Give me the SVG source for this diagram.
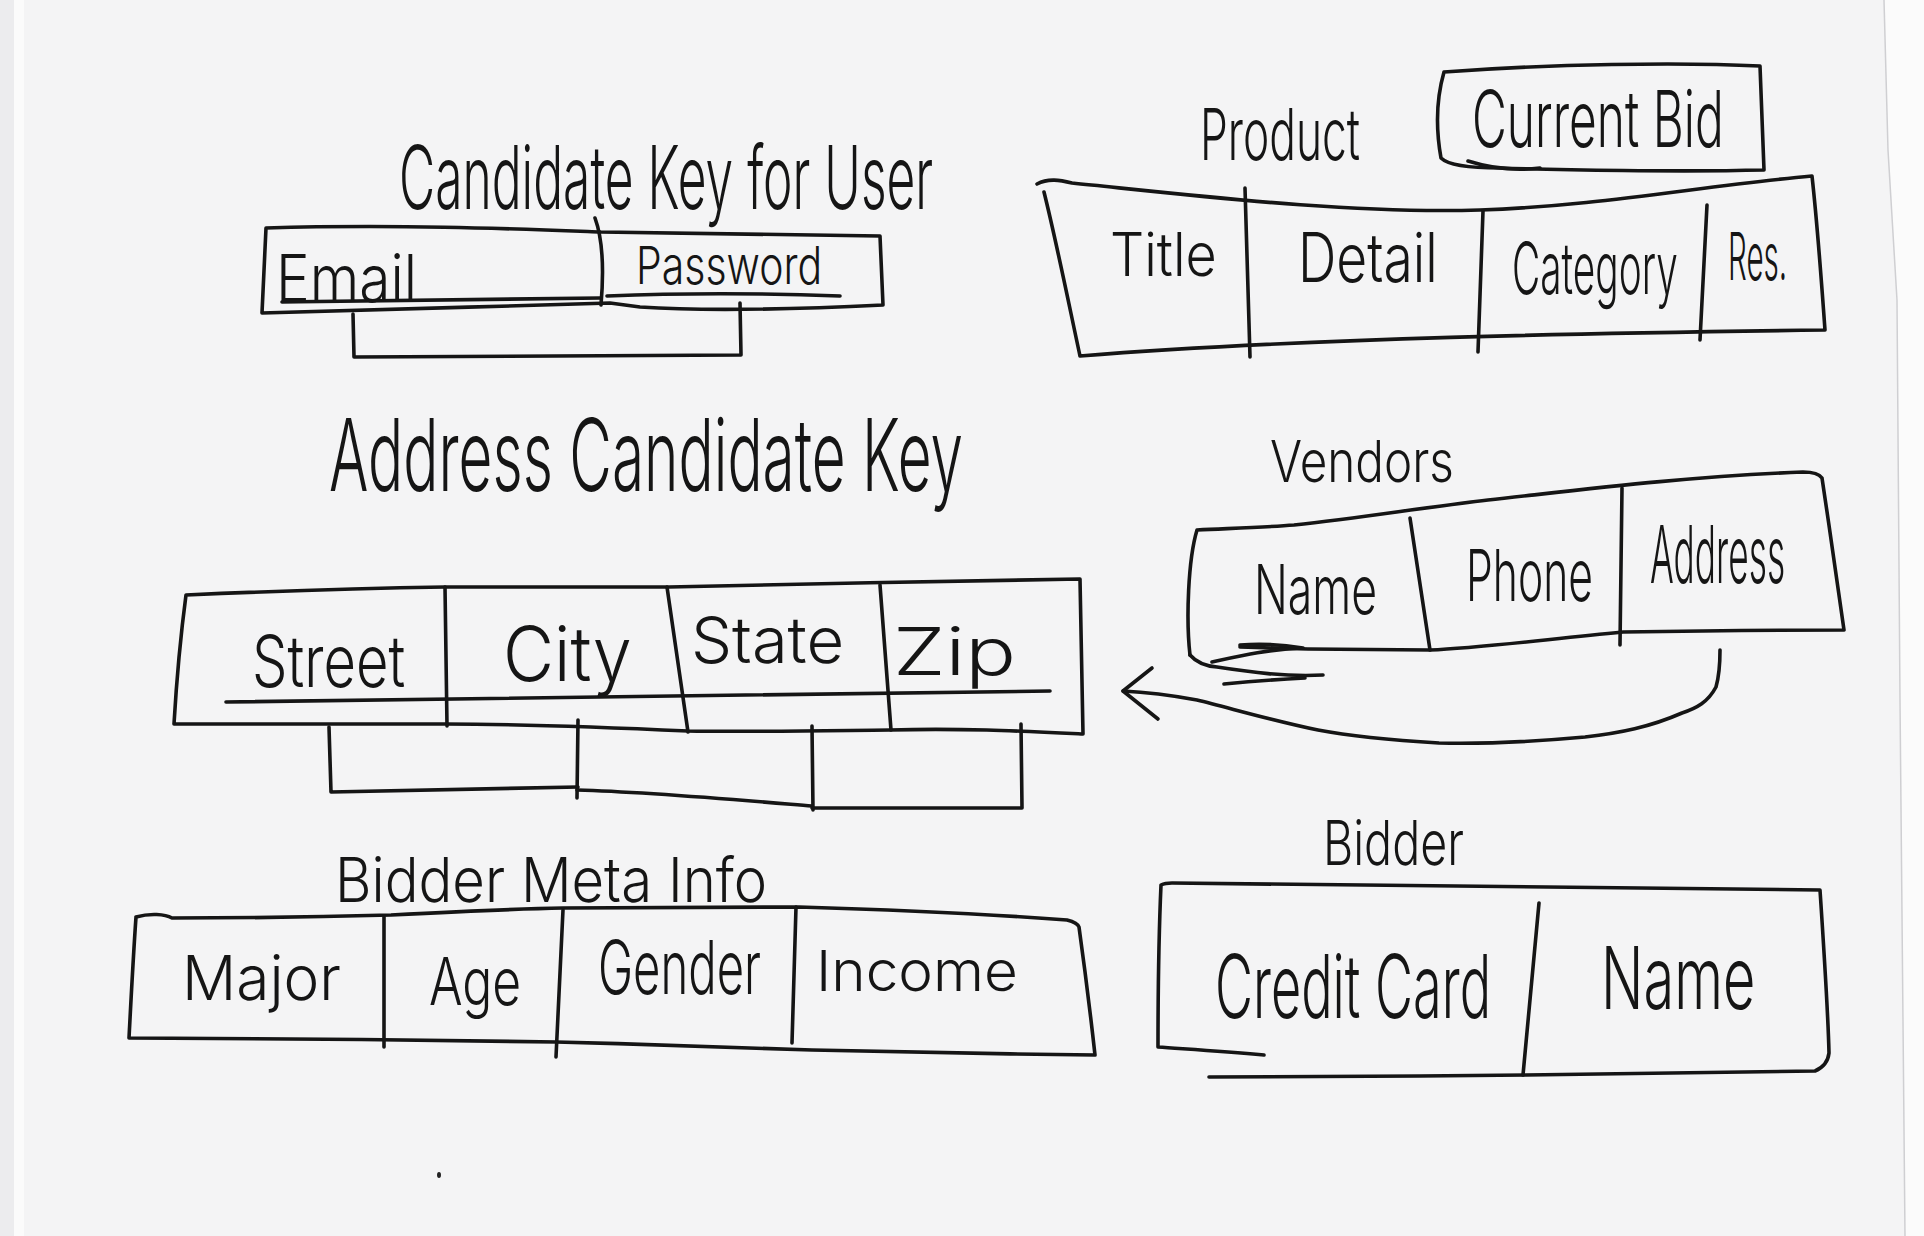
<svg xmlns="http://www.w3.org/2000/svg" width="1924" height="1236" viewBox="0 0 1924 1236">
<style>
.ln{fill:none;stroke:#151515;stroke-width:3.6;stroke-linecap:round;stroke-linejoin:round}
.t{font-family:Inter,"Liberation Sans","DejaVu Sans",sans-serif;font-weight:300;fill:#151515}
</style>
<rect x="0" y="0" width="1924" height="1236" fill="#f4f4f5"/>
<rect x="0" y="0" width="14" height="1236" fill="#ececee"/>
<rect x="14" y="0" width="10" height="1236" fill="#fbfbfb"/>
<path d="M1884,0 L1888,150 L1897,300 L1900,700 L1905,1236 L1924,1236 L1924,0 Z" fill="#fbfbfb"/>
<path d="M1884,0 L1888,150 L1897,300 L1900,700 L1905,1236" fill="none" stroke="#cfcfd2" stroke-width="1.5"/>
<ellipse cx="439" cy="1175" rx="2" ry="3" fill="#222"/>

<g id="user-key">
<text class="t" font-size="88" textLength="921" lengthAdjust="spacingAndGlyphs" transform="translate(399,209) scale(0.58,1)">Candidate Key for User</text>
<path class="ln" d="M266,228 C400,224 520,229 601,232 L880,236 L883,305 C800,309 700,311 640,307 L610,303 C500,306 350,311 262,313 Z"/>
<path class="ln" d="M595,218 C603,240 604,270 601,305"/>
<path class="ln" d="M282,302 C400,300 520,299 600,298"/>
<path class="ln" d="M607,296 C680,293 760,293 840,296"/>
<path class="ln" d="M353,314 L354,357 L741,355 L740,303"/>
<text class="t" font-size="66" textLength="243" lengthAdjust="spacingAndGlyphs" transform="translate(276,302) scale(0.58,1)">Email</text>
<text class="t" font-size="52" textLength="321" lengthAdjust="spacingAndGlyphs" transform="translate(636,284) scale(0.58,1)">Password</text>
</g>

<g id="product">
<text class="t" font-size="72" textLength="276" lengthAdjust="spacingAndGlyphs" transform="translate(1200,160) scale(0.58,1)">Product</text>
<path class="ln" d="M1037,184 C1048,178 1060,180 1072,183 C1200,196 1350,214 1480,210 C1600,206 1700,186 1812,176 C1818,230 1822,290 1825,330 C1600,333 1300,338 1080,356 C1068,300 1056,240 1044,192"/>
<path class="ln" d="M1245,188 L1250,357"/>
<path class="ln" d="M1483,211 L1478,352"/>
<path class="ln" d="M1707,205 L1700,340"/>
<text class="t" font-size="60" textLength="184" lengthAdjust="spacingAndGlyphs" transform="translate(1110,276) scale(0.58,1)">Title</text>
<text class="t" font-size="68" textLength="241" lengthAdjust="spacingAndGlyphs" transform="translate(1298,282) scale(0.58,1)">Detail</text>
<text class="t" font-size="72" textLength="286" lengthAdjust="spacingAndGlyphs" transform="translate(1512,294) scale(0.58,1)">Category</text>
<text class="t" font-size="66" textLength="102" lengthAdjust="spacingAndGlyphs" transform="translate(1728,280) scale(0.58,1)">Res.</text>
</g>

<g id="current-bid">
<path class="ln" d="M1444,72 C1550,64 1680,62 1760,66 L1764,170 C1680,172 1560,170 1500,168 C1470,168 1448,165 1441,158 C1436,130 1436,100 1444,72 Z"/>
<path class="ln" d="M1468,161 C1490,168 1515,171 1540,168"/>
<text class="t" font-size="78" textLength="434" lengthAdjust="spacingAndGlyphs" transform="translate(1472,147) scale(0.58,1)">Current Bid</text>
</g>

<g id="address-key">
<text class="t" font-size="100" textLength="1093" lengthAdjust="spacingAndGlyphs" transform="translate(329,491) scale(0.58,1)">Address Candidate Key</text>
<path class="ln" d="M186,595 C300,590 380,588 445,587 L669,587 C800,584 950,581 1080,579 L1083,734 C1020,731 960,728 890,730 C800,731 740,732 688,731 C600,727 500,724 445,724 L174,724 C176,690 180,640 186,595 Z"/>
<path class="ln" d="M445,587 L447,726"/>
<path class="ln" d="M667,587 L688,732"/>
<path class="ln" d="M880,585 L891,730"/>
<path class="ln" d="M226,702 C450,700 700,694 1050,691"/>
<path class="ln" d="M329,727 L331,792 L578,787"/>
<path class="ln" d="M578,720 L577,798"/>
<path class="ln" d="M577,790 C650,792 740,800 812,806"/>
<path class="ln" d="M812,726 L813,810"/>
<path class="ln" d="M812,808 L1022,808 L1021,724"/>
<text class="t" font-size="72" textLength="264" lengthAdjust="spacingAndGlyphs" transform="translate(252,687) scale(0.58,1)">Street</text>
<text class="t" font-size="76" textLength="222" lengthAdjust="spacingAndGlyphs" transform="translate(503,681) scale(0.58,1)">City</text>
<text class="t" font-size="64" textLength="264" lengthAdjust="spacingAndGlyphs" transform="translate(691,663) scale(0.58,1)">State</text>
<text class="t" font-size="66" textLength="212" lengthAdjust="spacingAndGlyphs" transform="translate(893,675) scale(0.58,1)">Zip</text>
</g>

<g id="vendors">
<text class="t" font-size="58" textLength="317" lengthAdjust="spacingAndGlyphs" transform="translate(1270,482) scale(0.58,1)">Vendors</text>
<path class="ln" d="M1190,655 C1186,620 1188,560 1197,530 C1240,528 1270,527 1294,525 C1360,518 1420,508 1488,500 C1580,490 1680,477 1803,472 C1815,472 1820,475 1822,478 C1830,530 1838,590 1844,630 C1760,630 1680,631 1623,632 C1540,640 1480,648 1430,650 L1308,649 L1240,647"/>
<path class="ln" d="M1410,518 L1430,650"/>
<path class="ln" d="M1622,488 L1620,645"/>
<path class="ln" d="M1190,655 C1196,662 1205,666 1217,667 C1250,672 1285,677 1323,675"/>
<path class="ln" d="M1212,662 C1240,656 1265,650 1300,648"/>
<path class="ln" d="M1240,645 C1265,643 1285,645 1303,648"/>
<path class="ln" d="M1224,684 C1255,681 1285,679 1305,678"/>
<text class="t" font-size="68" textLength="212" lengthAdjust="spacingAndGlyphs" transform="translate(1254,614) scale(0.58,1)">Name</text>
<text class="t" font-size="72" textLength="219" lengthAdjust="spacingAndGlyphs" transform="translate(1466,601) scale(0.58,1)">Phone</text>
<text class="t" font-size="80" textLength="233" lengthAdjust="spacingAndGlyphs" transform="translate(1650,583) scale(0.58,1)">Address</text>
</g>

<g id="bidder-meta">
<text class="t" font-size="62" textLength="745" lengthAdjust="spacingAndGlyphs" transform="translate(335,902) scale(0.58,1)">Bidder Meta Info</text>
<path class="ln" d="M136,917 C150,913 165,914 172,918 C250,918 320,917 391,915 C450,912 510,909 563,908 L799,907 C900,910 1000,915 1067,920 C1075,922 1078,924 1079,927 C1085,970 1090,1010 1095,1055 C1000,1054 900,1052 812,1050 C720,1047 640,1044 556,1042 C420,1040 260,1038 129,1038 C131,1000 133,960 136,917"/>
<path class="ln" d="M384,917 L384,1047"/>
<path class="ln" d="M563,910 L556,1057"/>
<path class="ln" d="M796,907 L792,1043"/>
<text class="t" font-size="62" textLength="274" lengthAdjust="spacingAndGlyphs" transform="translate(182,1000) scale(0.58,1)">Major</text>
<text class="t" font-size="66" textLength="159" lengthAdjust="spacingAndGlyphs" transform="translate(429,1005) scale(0.58,1)">Age</text>
<text class="t" font-size="74" textLength="281" lengthAdjust="spacingAndGlyphs" transform="translate(598,994) scale(0.58,1)">Gender</text>
<text class="t" font-size="56" textLength="348" lengthAdjust="spacingAndGlyphs" transform="translate(816,991) scale(0.58,1)">Income</text>
</g>

<g id="bidder">
<text class="t" font-size="62" textLength="243" lengthAdjust="spacingAndGlyphs" transform="translate(1323,865) scale(0.58,1)">Bidder</text>
<path class="ln" d="M1264,1055 C1220,1051 1185,1049 1158,1047 C1158,990 1159,930 1161,885 C1165,883 1168,883 1172,883 C1400,885 1620,888 1820,890 C1824,950 1828,1010 1829,1053 C1828,1062 1822,1068 1815,1071 C1700,1073 1600,1074 1526,1075 C1420,1076 1300,1077 1209,1077"/>
<path class="ln" d="M1539,903 L1523,1075"/>
<text class="t" font-size="88" textLength="476" lengthAdjust="spacingAndGlyphs" transform="translate(1215,1018) scale(0.58,1)">Credit Card</text>
<text class="t" font-size="86" textLength="266" lengthAdjust="spacingAndGlyphs" transform="translate(1601,1009) scale(0.58,1)">Name</text>
</g>

<g id="connectors">
<path class="ln" d="M1720,650 C1720,665 1718,680 1716,687 C1708,702 1697,708 1682,713 C1650,727 1620,733 1585,737 C1530,742 1480,744 1439,743 C1390,740 1350,736 1318,730 C1270,720 1230,708 1197,700 C1170,695 1145,692 1123,691"/>
<path class="ln" d="M1152,668 L1123,691 L1158,719"/>
</g>
</svg>
